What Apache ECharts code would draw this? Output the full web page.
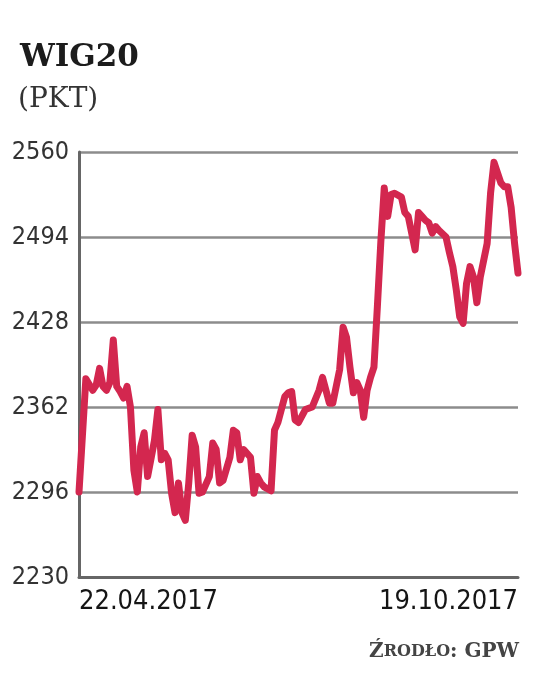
<!DOCTYPE html>
<html><head><meta charset="utf-8">
<script src="https://cdn.jsdelivr.net/npm/echarts@6/dist/echarts.min.js"></script>
<style>html,body{margin:0;padding:0;background:#fff}#c{width:536px;height:695px}</style>
</head><body><div id="c"></div>
<script>
// trading session index (0 = 22.04.2017 ... 128 = 19.10.2017)
const sessions = [0,2,4,5,6,7,8,9,10,11,12,13,14,15,16,17,18,19,20,22,23,24,25,26,27,28,29,30,31,32,33,34,35,36,38,39,40,41,42,44,45,46,47,48,50,51,52,53,54,56,57,58,60,61,62,63,64,66,68,70,71,73,74,76,77,78,79,80,81,82,83,84,85,86,87,88,89,90,91,92,94,95,96,97,98,99,100,101,102,103,104,105,107,108,109,110,111,112,113,114,115,116,117,119,120,121,123,124,125,126,127,128];
const wig20 = [2296,2384,2375,2379,2392,2378,2375,2381,2414,2378,2374,2369,2378,2362,2313,2296,2331,2342,2308,2336,2360,2321,2326,2321,2295,2280,2303,2280,2274,2303,2340,2331,2295,2296,2308,2334,2329,2303,2305,2323,2344,2342,2321,2329,2323,2295,2308,2303,2300,2297,2344,2350,2370,2373,2374,2352,2350,2360,2362,2375,2385,2365,2365,2391,2424,2416,2393,2373,2381,2375,2354,2375,2385,2393,2440,2490,2532,2510,2527,2528,2525,2513,2510,2497,2484,2513,2510,2507,2505,2497,2502,2499,2494,2482,2471,2453,2432,2427,2458,2471,2463,2443,2463,2489,2528,2552,2536,2533,2533,2517,2489,2466];
const yTicks = [2230, 2296, 2362, 2428, 2494, 2560];
const dateLabels = ['22.04.2017', '19.10.2017'];
const lastSession = 128;

const chart = echarts.init(document.getElementById('c'), null, {renderer: 'canvas'});
const condensed = '"Liberation Sans Narrow","DejaVu Sans Condensed",sans-serif';
chart.setOption({
  animation: false,
  backgroundColor: '#fff',
  title: [
    {text: 'WIG20', left: 15, top: 37, textStyle: {fontFamily: 'DejaVu Serif', fontWeight: 'bold', fontSize: 31, color: '#1c1c1c'}},
    {text: '(PKT)', left: 13, top: 81, textStyle: {fontFamily: 'DejaVu Serif', fontWeight: 'normal', fontSize: 28, color: '#333'}},
    {text: '{a|Ź}{b|RODŁO}{a|: GPW}', right: 12, top: 637, textStyle: {rich: {
      a: {fontFamily: 'DejaVu Serif', fontSize: 20, color: '#444'},
      b: {fontFamily: 'DejaVu Serif', fontSize: 16, color: '#444'}
    }}}
  ],
  grid: {left: 79, right: 18, top: 152, bottom: 118, outerBoundsMode: 'none', containLabel: false},
  xAxis: {
    type: 'value', min: 0, max: lastSession, interval: lastSession,
    axisLine: {show: true, onZero: false, lineStyle: {color: '#666', width: 3}},
    axisTick: {show: false},
    splitLine: {show: false},
    axisLabel: {
      margin: 11, fontFamily: condensed, fontSize: 27, color: '#151515',
      alignMinLabel: 'left', alignMaxLabel: 'right',
      formatter: v => v === 0 ? dateLabels[0] : (v === lastSession ? dateLabels[1] : '')
    }
  },
  yAxis: {
    type: 'value', min: yTicks[0], max: yTicks[yTicks.length - 1], interval: yTicks[1] - yTicks[0],
    axisLine: {show: true, lineStyle: {color: '#666', width: 3}},
    axisTick: {show: false},
    splitLine: {show: true, lineStyle: {color: '#8c8c8c', width: 2.5}},
    axisLabel: {margin: 10, fontFamily: condensed, fontSize: 25, color: '#333', formatter: v => String(v)}
  },
  series: [{
    type: 'line',
    data: sessions.map((s, i) => [s, wig20[i]]),
    showSymbol: false,
    lineStyle: {color: '#d3274f', width: 7, join: 'round', cap: 'round'},
    z: 5
  }]
});
</script>
</body></html>
